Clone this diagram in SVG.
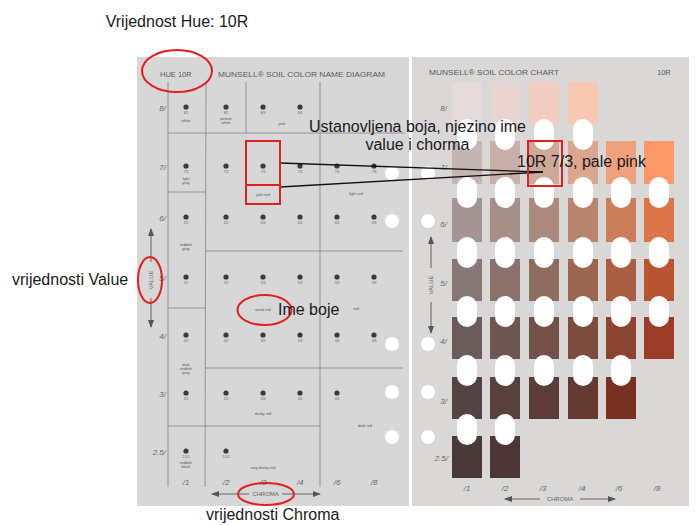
<svg xmlns="http://www.w3.org/2000/svg" width="696" height="525" viewBox="0 0 696 525">
<style>
text{font-family:"Liberation Sans",Arial,sans-serif}
.big{font-size:16px;fill:#1a1a1a}
.hdr{font-size:7.5px;fill:#5a5a5a}
.val{font-size:8px;fill:#666;font-style:italic;text-anchor:end}
.chr{font-size:8px;fill:#666;font-style:italic;text-anchor:middle}
.dl{font-size:3.4px;fill:#666;text-anchor:middle}
.nm{font-size:3.8px;fill:#555;text-anchor:middle}
.ax{font-size:6px;fill:#666;text-anchor:middle}
.grid{stroke:#8c8c8c;stroke-width:0.9;fill:none}
.dot{fill:#3a3a3a}
.red{fill:none;stroke:#e0211f;stroke-width:2}
.hole{fill:#fff}
.ov{fill:#fff}
.ar{stroke:#555;stroke-width:0.9;fill:none}
.con{stroke:#111;stroke-width:1.3;fill:none}
</style>
<defs>
<marker id="ah" viewBox="0 0 8 6" refX="7" refY="3" markerWidth="8" markerHeight="6" orient="auto-start-reverse" markerUnits="userSpaceOnUse"><path d="M0,0 L8,3 L0,6 z" fill="#555"/></marker>
</defs>
<rect width="696" height="525" fill="#fff"/>
<text class="big" x="177" y="27" text-anchor="middle">Vrijednost Hue: 10R</text>

<g id="left-panel">
<rect x="137" y="57" width="272" height="449" fill="#d7d7d7"/>
<text class="hdr" x="160" y="77">HUE 10R</text>
<text class="hdr" x="218" y="77" textLength="167" lengthAdjust="spacingAndGlyphs">MUNSELL® SOIL COLOR NAME DIAGRAM</text>
<g class="grid">
<line x1="168" y1="82" x2="168" y2="487"/>
<line x1="206" y1="82" x2="205" y2="487"/>
<line x1="246" y1="82" x2="246" y2="133"/>
<line x1="320" y1="82" x2="320" y2="487"/>
<line x1="168" y1="133" x2="405" y2="133"/>
<line x1="168" y1="192" x2="206" y2="192"/>
<line x1="206" y1="251" x2="403" y2="251"/>
<line x1="168" y1="308" x2="206" y2="308"/>
<line x1="205" y1="368" x2="403" y2="368"/>
<line x1="168" y1="426" x2="320" y2="426"/>
</g>
<g>
<text class="val" x="166" y="111">8/</text>
<text class="val" x="166" y="170">7/</text>
<text class="val" x="166" y="221">6/</text>
<text class="val" x="166" y="281">5/</text>
<text class="val" x="166" y="339">4/</text>
<text class="val" x="166" y="397">3/</text>
<text class="val" x="166" y="455">2.5/</text>
</g>
<g>
<text class="chr" x="186" y="485">/1</text>
<text class="chr" x="226" y="485">/2</text>
<text class="chr" x="263" y="485">/3</text>
<text class="chr" x="300" y="485">/4</text>
<text class="chr" x="337" y="485">/6</text>
<text class="chr" x="374" y="485">/8</text>
</g>
<g id="dots">
<circle class="dot" cx="186" cy="107" r="2.6"/><circle class="dot" cx="226" cy="107" r="2.6"/><circle class="dot" cx="263" cy="107" r="2.6"/><circle class="dot" cx="300" cy="107" r="2.6"/>
<text class="dl" x="186" y="114">8/1</text><text class="dl" x="226" y="114">8/2</text><text class="dl" x="263" y="114">8/3</text><text class="dl" x="300" y="114">8/4</text>
<circle class="dot" cx="186" cy="166" r="2.6"/><circle class="dot" cx="226" cy="166" r="2.6"/><circle class="dot" cx="263" cy="166" r="2.6"/><circle class="dot" cx="300" cy="166" r="2.6"/><circle class="dot" cx="337" cy="166" r="2.6"/><circle class="dot" cx="374" cy="166" r="2.6"/>
<text class="dl" x="186" y="173">7/1</text><text class="dl" x="226" y="173">7/2</text><text class="dl" x="263" y="173">7/3</text><text class="dl" x="300" y="173">7/4</text><text class="dl" x="337" y="173">7/6</text><text class="dl" x="374" y="173">7/8</text>
<circle class="dot" cx="186" cy="217" r="2.6"/><circle class="dot" cx="226" cy="217" r="2.6"/><circle class="dot" cx="263" cy="217" r="2.6"/><circle class="dot" cx="300" cy="217" r="2.6"/><circle class="dot" cx="337" cy="217" r="2.6"/><circle class="dot" cx="374" cy="217" r="2.6"/>
<text class="dl" x="186" y="224">6/1</text><text class="dl" x="226" y="224">6/2</text><text class="dl" x="263" y="224">6/3</text><text class="dl" x="300" y="224">6/4</text><text class="dl" x="337" y="224">6/6</text><text class="dl" x="374" y="224">6/8</text>
<circle class="dot" cx="186" cy="277" r="2.6"/><circle class="dot" cx="226" cy="277" r="2.6"/><circle class="dot" cx="263" cy="277" r="2.6"/><circle class="dot" cx="300" cy="277" r="2.6"/><circle class="dot" cx="337" cy="277" r="2.6"/><circle class="dot" cx="374" cy="277" r="2.6"/>
<text class="dl" x="186" y="284">5/1</text><text class="dl" x="226" y="284">5/2</text><text class="dl" x="263" y="284">5/3</text><text class="dl" x="300" y="284">5/4</text><text class="dl" x="337" y="284">5/6</text><text class="dl" x="374" y="284">5/8</text>
<circle class="dot" cx="186" cy="335" r="2.6"/><circle class="dot" cx="226" cy="335" r="2.6"/><circle class="dot" cx="263" cy="335" r="2.6"/><circle class="dot" cx="300" cy="335" r="2.6"/><circle class="dot" cx="337" cy="335" r="2.6"/><circle class="dot" cx="374" cy="335" r="2.6"/>
<text class="dl" x="186" y="342">4/1</text><text class="dl" x="226" y="342">4/2</text><text class="dl" x="263" y="342">4/3</text><text class="dl" x="300" y="342">4/4</text><text class="dl" x="337" y="342">4/6</text><text class="dl" x="374" y="342">4/8</text>
<circle class="dot" cx="186" cy="393" r="2.6"/><circle class="dot" cx="226" cy="393" r="2.6"/><circle class="dot" cx="263" cy="393" r="2.6"/><circle class="dot" cx="300" cy="393" r="2.6"/><circle class="dot" cx="337" cy="393" r="2.6"/>
<text class="dl" x="186" y="400">3/1</text><text class="dl" x="226" y="400">3/2</text><text class="dl" x="263" y="400">3/3</text><text class="dl" x="300" y="400">3/4</text><text class="dl" x="337" y="400">3/6</text>
<circle class="dot" cx="186" cy="451" r="2.6"/><circle class="dot" cx="226" cy="451" r="2.6"/>
<text class="dl" x="186" y="458">2.5/1</text><text class="dl" x="226" y="458">2.5/2</text>
</g>
<g id="names">
<text class="nm" x="186" y="122">white</text>
<text class="nm" x="226" y="120">pinkish</text><text class="nm" x="226" y="124">white</text>
<text class="nm" x="282" y="125">pink</text>
<text class="nm" x="186" y="180">light</text><text class="nm" x="186" y="184">gray</text>
<text class="nm" x="263" y="196">pale red</text>
<text class="nm" x="356" y="195">light red</text>
<text class="nm" x="186" y="246">reddish</text><text class="nm" x="186" y="250">gray</text>
<text class="nm" x="263" y="311">weak red</text>
<text class="nm" x="356" y="310">red</text>
<text class="nm" x="186" y="366">dark</text><text class="nm" x="186" y="370">reddish</text><text class="nm" x="186" y="374">gray</text>
<text class="nm" x="263" y="415">dusky red</text>
<text class="nm" x="365" y="427">dark red</text>
<text class="nm" x="186" y="464">reddish</text><text class="nm" x="186" y="468">black</text>
<text class="nm" x="263" y="469">very dusky red</text>
</g>
<g id="left-value-axis">
<line class="ar" x1="151" y1="262" x2="151" y2="229" marker-end="url(#ah)"/>
<line class="ar" x1="151" y1="298" x2="151" y2="327" marker-end="url(#ah)"/>
<text class="ax" transform="translate(153 280) rotate(-90)">VALUE</text>
</g>
<g id="left-chroma-axis">
<line class="ar" x1="249" y1="494" x2="212" y2="494" marker-end="url(#ah)"/>
<line class="ar" x1="282" y1="494" x2="320" y2="494" marker-end="url(#ah)"/>
<text class="ax" x="265.5" y="496">CHROMA</text>
</g>
<g>
<circle class="hole" cx="392" cy="173" r="7"/>
<circle class="hole" cx="392" cy="221" r="7"/>
<circle class="hole" cx="392" cy="344" r="7"/>
<circle class="hole" cx="392" cy="392" r="7"/>
<circle class="hole" cx="392" cy="437" r="7"/>
</g>
</g>

<g id="right-panel">
<rect x="412" y="57" width="277" height="449" fill="#d9d8d6"/>
<text class="hdr" x="429" y="75" textLength="130" lengthAdjust="spacingAndGlyphs">MUNSELL® SOIL COLOR CHART</text>
<text class="hdr" x="657" y="75">10R</text>
<g id="chips">
<rect x="452" y="82" width="30" height="42" fill="#e4dada"/>
<rect x="490" y="82" width="30" height="42" fill="#e8d4d0"/>
<rect x="529" y="82" width="30" height="42" fill="#f3cdc1"/>
<rect x="568" y="82" width="30" height="42" fill="#f8c8b3"/>
<rect x="452" y="141" width="30" height="43" fill="#c4b5b3"/>
<rect x="490" y="141" width="30" height="43" fill="#c8afa8"/>
<rect x="529" y="141" width="30" height="43" fill="#cfa898"/>
<rect x="568" y="141" width="30" height="43" fill="#dba68d"/>
<rect x="606" y="141" width="30" height="43" fill="#efa17b"/>
<rect x="644" y="141" width="30" height="43" fill="#fb9866"/>
<rect x="452" y="198" width="30" height="44" fill="#a39593"/>
<rect x="490" y="198" width="30" height="44" fill="#a78f89"/>
<rect x="529" y="198" width="30" height="44" fill="#ac897d"/>
<rect x="568" y="198" width="30" height="44" fill="#b8846e"/>
<rect x="606" y="198" width="30" height="44" fill="#cb7e5a"/>
<rect x="644" y="198" width="30" height="44" fill="#dc7448"/>
<rect x="452" y="259" width="30" height="42" fill="#877876"/>
<rect x="490" y="259" width="30" height="42" fill="#8a716b"/>
<rect x="529" y="259" width="30" height="42" fill="#8f6c60"/>
<rect x="568" y="259" width="30" height="42" fill="#9a6650"/>
<rect x="606" y="259" width="30" height="42" fill="#a85e40"/>
<rect x="644" y="259" width="30" height="42" fill="#b75432"/>
<rect x="452" y="317" width="30" height="42" fill="#6b5c5a"/>
<rect x="490" y="317" width="30" height="42" fill="#6e5652"/>
<rect x="529" y="317" width="30" height="42" fill="#735148"/>
<rect x="568" y="317" width="30" height="42" fill="#7c4c3c"/>
<rect x="606" y="317" width="30" height="42" fill="#8b4430"/>
<rect x="644" y="317" width="30" height="42" fill="#9a3c27"/>
<rect x="452" y="377" width="30" height="42" fill="#534442"/>
<rect x="490" y="377" width="30" height="42" fill="#57403e"/>
<rect x="529" y="377" width="30" height="42" fill="#5b3c36"/>
<rect x="568" y="377" width="30" height="42" fill="#643a30"/>
<rect x="606" y="377" width="30" height="42" fill="#7a3020"/>
<rect x="452" y="436" width="30" height="42" fill="#483a39"/>
<rect x="490" y="436" width="30" height="42" fill="#4b3535"/>
</g>
<g id="windows">
<rect class="ov" x="457" y="119" width="20" height="31" rx="10"/>
<rect class="ov" x="495" y="119" width="20" height="31" rx="10"/>
<rect class="ov" x="534" y="119" width="20" height="31" rx="10"/>
<rect class="ov" x="573" y="119" width="20" height="31" rx="10"/>
<rect class="ov" x="457" y="177" width="20" height="31" rx="10"/>
<rect class="ov" x="495" y="177" width="20" height="31" rx="10"/>
<rect class="ov" x="534" y="177" width="20" height="31" rx="10"/>
<rect class="ov" x="573" y="177" width="20" height="31" rx="10"/>
<rect class="ov" x="611" y="177" width="20" height="31" rx="10"/>
<rect class="ov" x="649" y="177" width="20" height="31" rx="10"/>
<rect class="ov" x="457" y="237" width="20" height="31" rx="10"/>
<rect class="ov" x="495" y="237" width="20" height="31" rx="10"/>
<rect class="ov" x="534" y="237" width="20" height="31" rx="10"/>
<rect class="ov" x="573" y="237" width="20" height="31" rx="10"/>
<rect class="ov" x="611" y="237" width="20" height="31" rx="10"/>
<rect class="ov" x="649" y="237" width="20" height="31" rx="10"/>
<rect class="ov" x="457" y="296" width="20" height="31" rx="10"/>
<rect class="ov" x="495" y="296" width="20" height="31" rx="10"/>
<rect class="ov" x="534" y="296" width="20" height="31" rx="10"/>
<rect class="ov" x="573" y="296" width="20" height="31" rx="10"/>
<rect class="ov" x="611" y="296" width="20" height="31" rx="10"/>
<rect class="ov" x="649" y="296" width="20" height="31" rx="10"/>
<rect class="ov" x="457" y="355" width="20" height="31" rx="10"/>
<rect class="ov" x="495" y="355" width="20" height="31" rx="10"/>
<rect class="ov" x="534" y="355" width="20" height="31" rx="10"/>
<rect class="ov" x="573" y="355" width="20" height="31" rx="10"/>
<rect class="ov" x="611" y="355" width="20" height="31" rx="10"/>
<rect class="ov" x="457" y="414" width="20" height="31" rx="10"/>
<rect class="ov" x="495" y="414" width="20" height="31" rx="10"/>
</g>
<g>
<text class="val" x="447" y="111">8/</text>
<text class="val" x="447" y="170">7/</text>
<text class="val" x="447" y="227">6/</text>
<text class="val" x="447" y="286">5/</text>
<text class="val" x="447" y="344">4/</text>
<text class="val" x="447" y="404">3/</text>
<text class="val" x="448" y="461">2.5/</text>
</g>
<g>
<text class="chr" x="467" y="491">/1</text>
<text class="chr" x="505" y="491">/2</text>
<text class="chr" x="543" y="491">/3</text>
<text class="chr" x="582" y="491">/4</text>
<text class="chr" x="619" y="491">/6</text>
<text class="chr" x="657" y="491">/8</text>
</g>
<g id="right-value-axis">
<line class="ar" x1="431" y1="268" x2="431" y2="237" marker-end="url(#ah)"/>
<line class="ar" x1="431" y1="302" x2="431" y2="333" marker-end="url(#ah)"/>
<text class="ax" transform="translate(433 285) rotate(-90)">VALUE</text>
</g>
<g id="right-chroma-axis">
<line class="ar" x1="540" y1="499" x2="505" y2="499" marker-end="url(#ah)"/>
<line class="ar" x1="580" y1="499" x2="615" y2="499" marker-end="url(#ah)"/>
<text class="ax" x="560" y="501">CHROMA</text>
</g>
<g>
<circle class="hole" cx="428" cy="173" r="7"/>
<circle class="hole" cx="428" cy="221" r="7"/>
<circle class="hole" cx="428" cy="344" r="7"/>
<circle class="hole" cx="428" cy="392" r="7"/>
<circle class="hole" cx="428" cy="437" r="7"/>
</g>
</g>

<g id="connectors">
<line class="con" x1="280" y1="163" x2="543" y2="172"/>
<line class="con" x1="280" y1="187" x2="543" y2="172"/>
</g>

<g id="highlights">
<ellipse class="red" cx="177" cy="71" rx="35" ry="21"/>
<rect class="red" x="246" y="141" width="34" height="44"/>
<rect class="red" x="246" y="185" width="34" height="19"/>
<rect class="red" x="528" y="141" width="34" height="45"/>
<ellipse class="red" cx="150" cy="280" rx="12" ry="23"/>
<ellipse class="red" cx="264.5" cy="310" rx="27" ry="15"/>
<ellipse class="red" cx="266" cy="494" rx="28" ry="11"/>
</g>

<g id="annotations">
<text class="big" x="417.5" y="132" text-anchor="middle">Ustanovljena boja, njezino ime</text>
<text class="big" x="417.5" y="150" text-anchor="middle">value i chorma</text>
<text class="big" x="517" y="167">10R 7/3, pale pink</text>
<text class="big" x="278" y="315">Ime boje</text>
<text class="big" x="12" y="285">vrijednosti Value</text>
<text class="big" x="206" y="520">vrijednosti Chroma</text>
</g>
</svg>
